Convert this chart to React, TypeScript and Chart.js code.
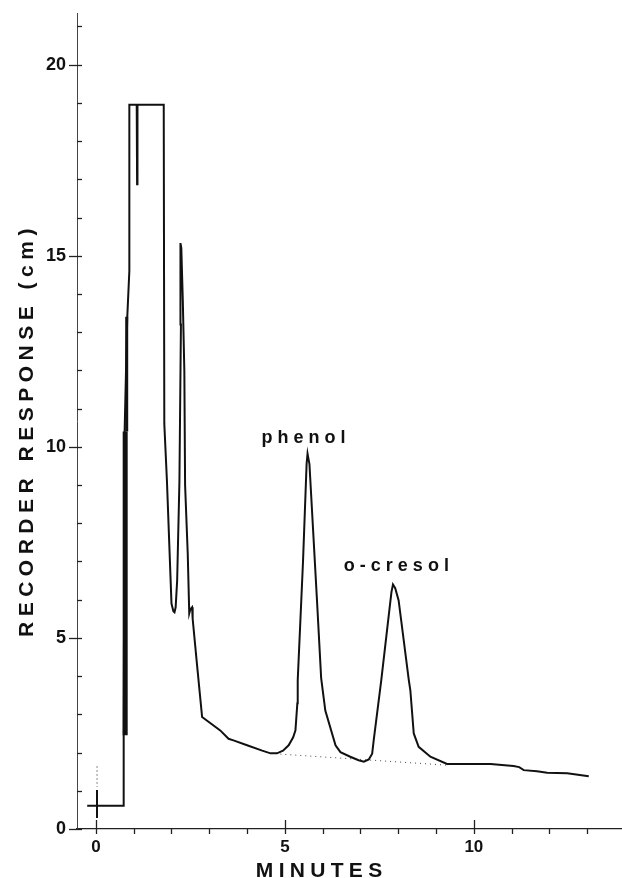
import React, { useEffect, useRef } from 'react';
import { Chart, registerables } from 'chart.js';

Chart.register(...registerables);

const FONT = '"Liberation Sans", Arial, Helvetica, sans-serif';

// Main chromatogram trace (minutes, cm)
const timeMin = [
  -0.23, 0.735, 0.735, 0.76, 0.83, 0.885, 0.885, 1.08, 1.09, 1.10, 1.795, 1.81, 1.88, 2.0, 2.05, 2.08, 2.11, 2.15,
  2.21, 2.25, 2.245, 2.23, 2.26, 2.30, 2.34, 2.36, 2.43, 2.47, 2.5, 2.545, 2.56, 2.69, 2.81, 3.29, 3.51, 3.64,
  4.0, 4.4, 4.62, 4.79, 4.95, 5.1, 5.22, 5.28, 5.33, 5.34, 5.48, 5.575, 5.6, 5.65, 5.85, 5.96, 6.07, 6.34,
  6.47, 6.73, 6.95, 7.09, 7.22, 7.31, 7.35, 7.55, 7.75, 7.82, 7.86, 7.92, 8.01, 8.28, 8.32, 8.41, 8.54, 8.85,
  9.29, 10.44, 11.05, 11.2, 11.32, 11.67, 11.94, 12.47, 13.04,
];
const response = [
  0.61, 0.61, 2.45, 10.4, 13.4, 14.6, 18.95, 18.95, 16.87, 18.95, 18.95, 10.6, 9.1, 5.9, 5.7, 5.67, 5.8, 6.5,
  9.1, 13.2, 15.2, 15.33, 15.2, 13.8, 12.0, 9.0, 7.2, 5.64, 5.75, 5.8, 5.5, 4.15, 2.93, 2.58, 2.36, 2.32,
  2.19, 2.05, 1.98, 1.98, 2.05, 2.19, 2.4, 2.58, 3.29, 3.89, 7.0, 9.55, 9.82, 9.55, 5.98, 3.95, 3.1, 2.19,
  2.01, 1.89, 1.8, 1.76, 1.82, 1.97, 2.32, 3.89, 5.6, 6.2, 6.4, 6.3, 5.98, 3.89, 3.63, 2.5, 2.15, 1.89,
  1.7, 1.7, 1.65, 1.62, 1.54, 1.51, 1.47, 1.46, 1.38,
];

// Heavy pen oscillation at the solvent front
const heavyTime = [0.775, 0.775];
const heavyResp = [2.45, 10.4];
const mediumTime = [0.815, 0.815];
const mediumResp = [10.4, 13.4];

// Drawn baseline under the peaks (dotted)
const baselineTime = [4.88, 9.29];
const baselineResp = [1.96, 1.67];

// Injection mark
const injectTime = [0.03, 0.03];
const injectResp = [1.02, 0.29];
const injectFaintTime = [0.03, 0.03];
const injectFaintResp = [1.65, 1.1];

// Axes
const xMin = -0.5;
const xMax = 13.92;
const yMin = 0;
const yMax = 21.33;
const xMajorTicks = [0, 5, 10];
const yMajorTicks = [0, 5, 10, 15, 20];
const xMinorTicks = [1, 2, 3, 4, 6, 7, 8, 9, 11, 12, 13];
const yMinorTicks = [1, 2, 3, 4, 6, 7, 8, 9, 11, 12, 13, 14, 16, 17, 18, 19, 21];

const xTitle = 'MINUTES';
const yTitle = 'RECORDER RESPONSE (cm)';

const peakLabels = ['phenol', 'o-cresol'];
const peakLabelTime = [5.49, 7.95];
const peakLabelResp = [10.09, 6.74];

const pts = (xs: number[], ys: number[]) => xs.map((x, i) => ({ x, y: ys[i] }));

function drawSpaced(ctx: CanvasRenderingContext2D, text: string, cx: number, cy: number, spacing: number) {
  (ctx as any).letterSpacing = spacing + 'px';
  const w = ctx.measureText(text).width - spacing;
  ctx.textAlign = 'left';
  ctx.fillText(text, cx - w / 2, cy);
  (ctx as any).letterSpacing = '0px';
}

const decorPlugin = {
  id: 'decor',
  afterDraw(chart: any) {
    const { ctx, chartArea, scales } = chart;
    const xs = scales.x;
    const ys = scales.y;
    const axX = chartArea.left;
    const axY = chartArea.bottom;
    ctx.save();
    ctx.strokeStyle = '#222';
    ctx.lineWidth = 1.3;
    yMajorTicks.forEach((v) => {
      const py = Math.round(ys.getPixelForValue(v)) + 0.5;
      ctx.beginPath();
      ctx.moveTo(axX - 8, py);
      ctx.lineTo(axX + 5, py);
      ctx.stroke();
    });
    yMinorTicks.forEach((v) => {
      const py = Math.round(ys.getPixelForValue(v)) + 0.5;
      ctx.beginPath();
      ctx.moveTo(axX, py);
      ctx.lineTo(axX + 5, py);
      ctx.stroke();
    });
    xMajorTicks.forEach((v) => {
      const px = Math.round(xs.getPixelForValue(v)) + 0.5;
      ctx.beginPath();
      ctx.moveTo(px, axY - 9);
      ctx.lineTo(px, axY + 5);
      ctx.stroke();
    });
    xMinorTicks.forEach((v) => {
      const px = Math.round(xs.getPixelForValue(v)) + 0.5;
      ctx.beginPath();
      ctx.moveTo(px, axY);
      ctx.lineTo(px, axY + 5);
      ctx.stroke();
    });

    ctx.fillStyle = '#111';
    ctx.textBaseline = 'alphabetic';
    // x title
    ctx.font = `bold 21px ${FONT}`;
    drawSpaced(ctx, xTitle, chartArea.left + 242, axY + 48, 5.3);
    // y title
    ctx.save();
    ctx.translate(33, chartArea.top + 419);
    ctx.rotate(-Math.PI / 2);
    drawSpaced(ctx, yTitle, 0, 0, 5.5);
    ctx.restore();
    // peak labels
    ctx.font = `bold 18px ${FONT}`;
    peakLabels.forEach((t, i) => {
      drawSpaced(ctx, t, xs.getPixelForValue(peakLabelTime[i]), ys.getPixelForValue(peakLabelResp[i]), 5);
    });
    ctx.restore();
  },
};

export default function App() {
  const ref = useRef<HTMLCanvasElement | null>(null);
  useEffect(() => {
    if (!ref.current) return;
    const line = '#111';
    const chart = new Chart(ref.current, {
      type: 'scatter',
      data: {
        datasets: [
          {
            data: pts(timeMin, response),
            showLine: true,
            borderColor: line,
            borderWidth: 2,
            pointRadius: 0,
            tension: 0,
          },
          {
            data: pts(heavyTime, heavyResp),
            showLine: true,
            borderColor: line,
            borderWidth: 5,
            pointRadius: 0,
          },
          {
            data: pts(mediumTime, mediumResp),
            showLine: true,
            borderColor: line,
            borderWidth: 3,
            pointRadius: 0,
          },
          {
            data: pts(baselineTime, baselineResp),
            showLine: true,
            borderColor: '#444',
            borderWidth: 1,
            borderDash: [1, 4],
            pointRadius: 0,
          },
          {
            data: pts(injectTime, injectResp),
            showLine: true,
            borderColor: line,
            borderWidth: 2,
            pointRadius: 0,
          },
          {
            data: pts(injectFaintTime, injectFaintResp),
            showLine: true,
            borderColor: '#888',
            borderWidth: 1,
            borderDash: [2, 2],
            pointRadius: 0,
          },
        ],
      },
      options: {
        responsive: false,
        animation: false,
        devicePixelRatio: 1,
        events: [],
        layout: { padding: { top: 12, right: 0, left: 0, bottom: 0 } },
        plugins: { legend: { display: false }, tooltip: { enabled: false } },
        scales: {
          x: {
            type: 'linear',
            min: xMin,
            max: xMax,
            afterBuildTicks: (s: any) => {
              s.ticks = xMajorTicks.map((v) => ({ value: v }));
            },
            afterFit: (s: any) => {
              s.height = 49;
            },
            grid: { display: false },
            border: { display: true, color: '#222', width: 1.3 },
            ticks: {
              autoSkip: false,
              maxRotation: 0,
              padding: 0,
              color: '#111',
              font: { family: FONT, size: 17, weight: 'bold' },
              callback: (v: any) => String(v),
            },
          },
          y: {
            type: 'linear',
            min: yMin,
            max: yMax,
            afterBuildTicks: (s: any) => {
              s.ticks = yMajorTicks.map((v) => ({ value: v }));
            },
            afterFit: (s: any) => {
              s.width = 77;
            },
            grid: { display: false },
            border: { display: true, color: '#444', width: 1 },
            ticks: {
              autoSkip: false,
              padding: 3,
              color: '#111',
              font: { family: FONT, size: 18, weight: 'bold' },
              callback: (v: any) => String(v),
            },
          },
        },
      },
      plugins: [decorPlugin],
    } as any);
    return () => chart.destroy();
  }, []);
  return (
    <div style={{ position: 'absolute', left: 0, top: 0, width: 622, height: 878, background: '#fff' }}>
      <canvas ref={ref} width={622} height={878} style={{ display: 'block', width: 622, height: 878 }} />
    </div>
  );
}
